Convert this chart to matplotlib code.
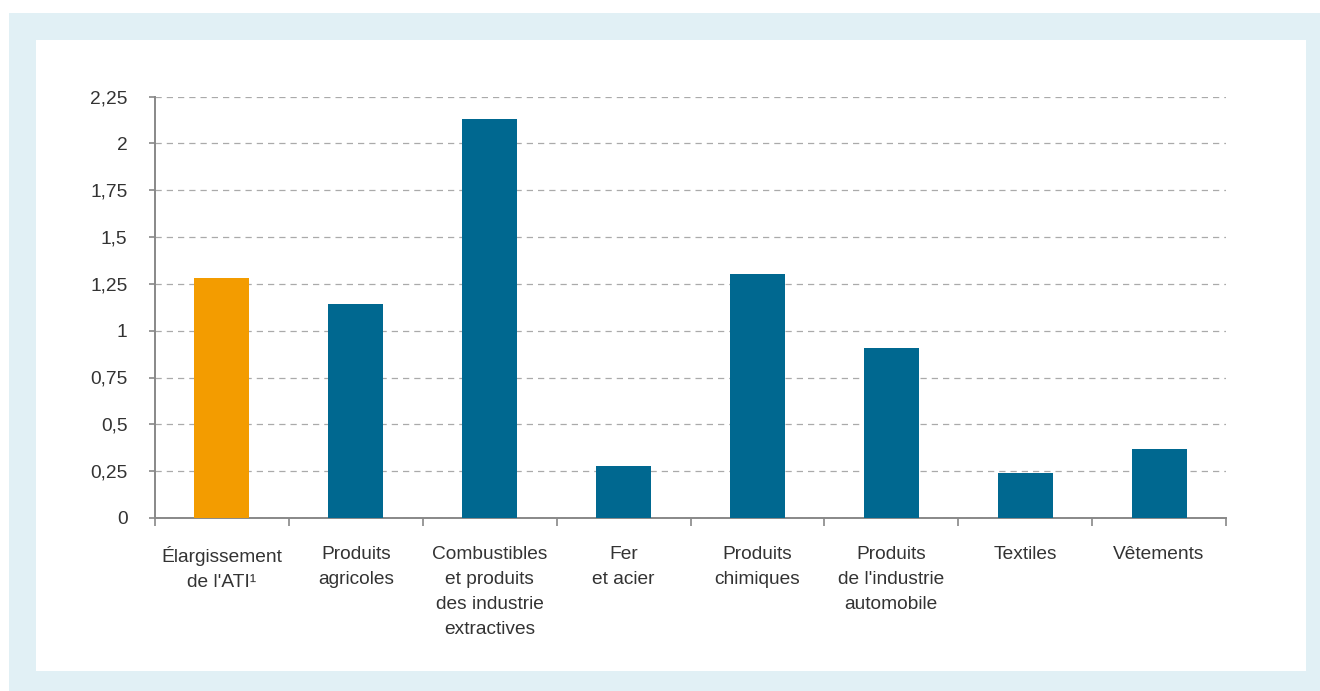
import matplotlib.pyplot as plt
from matplotlib.patches import Rectangle
from matplotlib.ticker import FixedLocator, FuncFormatter

categories = [
    "Élargissement\nde l'ATI¹",
    "Produits\nagricoles",
    "Combustibles\net produits\ndes industrie\nextractives",
    "Fer\net acier",
    "Produits\nchimiques",
    "Produits\nde l'industrie\nautomobile",
    "Textiles",
    "Vêtements",
]
values = [1.28, 1.14, 2.13, 0.28, 1.30, 0.91, 0.24, 0.37]
bar_colors = ["#F39C00"] + ["#006890"] * 7
y_ticks = [0, 0.25, 0.5, 0.75, 1, 1.25, 1.5, 1.75, 2, 2.25]

plt.rcParams["font.family"] = ["Liberation Sans", "DejaVu Sans"]

W, H = 1320, 691
fig = plt.figure(figsize=(W / 100, H / 100), dpi=100)
fig.patch.set_facecolor("white")

# cadre bleu clair et panneau blanc
fig.patches.append(Rectangle((9 / W, 0), 1 - 9 / W, 1 - 13 / H,
                             transform=fig.transFigure, facecolor="#E1F0F5",
                             edgecolor="none", zorder=-2))
fig.patches.append(Rectangle((36 / W, 1 - 671 / H), (1306 - 36) / W, (671 - 40) / H,
                             transform=fig.transFigure, facecolor="white",
                             edgecolor="none", zorder=-1))

left, right, bottom, top = 155, 1226, 518, 96.5
ax = fig.add_axes([left / W, 1 - bottom / H, (right - left) / W, (bottom - top) / H])
ax.set_facecolor("none")

x = range(len(categories))
ax.bar(x, values, width=0.41, color=bar_colors, zorder=3)

ax.set_xlim(-0.5, len(categories) - 0.5)
ax.set_ylim(0, 2.25)
ax.set_yticks(y_ticks)
ax.yaxis.set_major_formatter(FuncFormatter(lambda v, p: f"{v:g}".replace(".", ",")))

ax.set_xticks(list(x))
ax.set_xticklabels(categories, fontsize=13.8, color="#333333", linespacing=1.6)
ax.xaxis.set_minor_locator(FixedLocator([i - 0.5 for i in range(len(categories) + 1)]))
ax.tick_params(axis="x", which="major", length=0, pad=20.5)
ax.tick_params(axis="x", which="minor", length=6, width=1.2, color="#888888")
ax.tick_params(axis="y", length=4.3, width=1.2, color="#888888", labelsize=13.8,
               labelcolor="#333333", pad=15.5)

ax.grid(axis="y", linestyle=(0, (5, 4)), color="#AAAAAA", linewidth=0.9, zorder=0)
for side in ["top", "right"]:
    ax.spines[side].set_visible(False)
for side in ["left", "bottom"]:
    ax.spines[side].set_color("#888888")
    ax.spines[side].set_linewidth(1.4)

fig.savefig("out.png", dpi=100, facecolor=fig.get_facecolor())
